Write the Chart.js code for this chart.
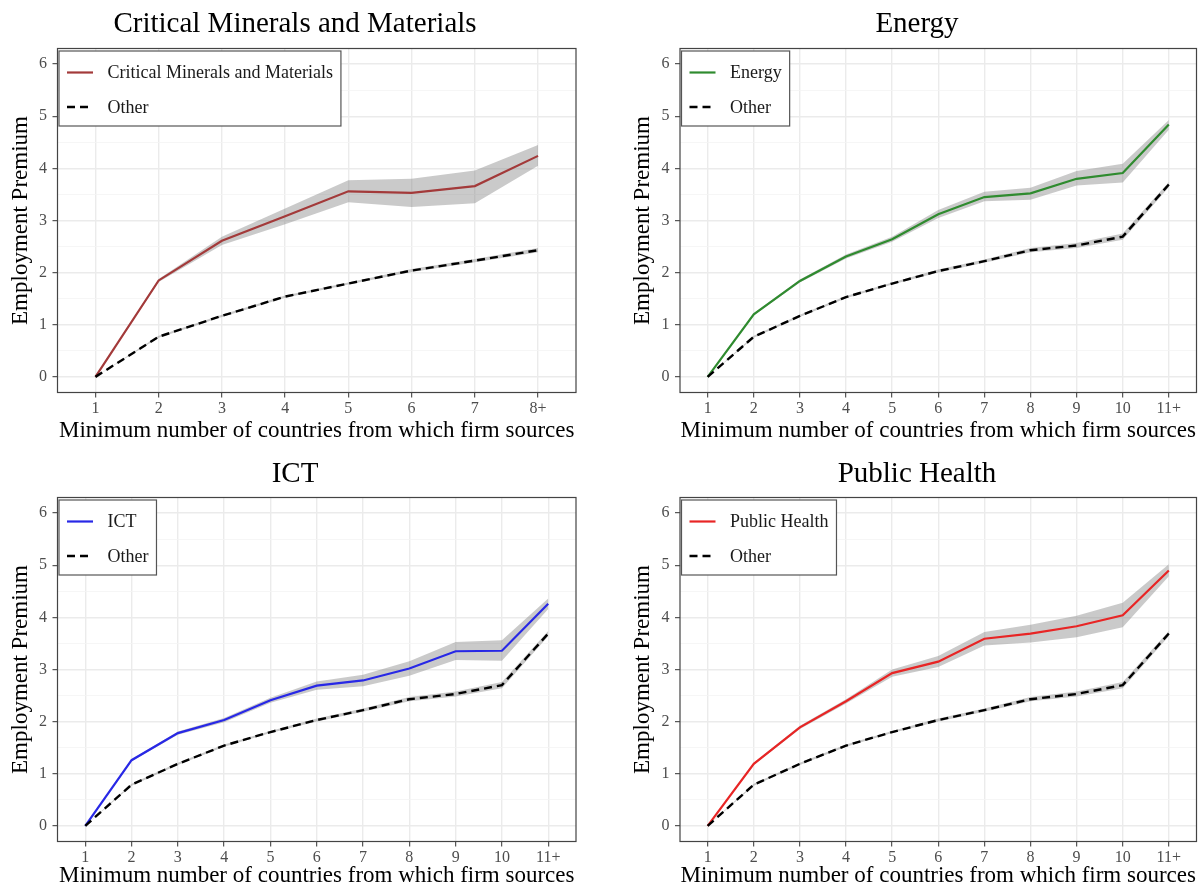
<!DOCTYPE html>
<html>
<head>
<meta charset="utf-8">
<title>Employment Premium by sector</title>
<script src="https://cdn.jsdelivr.net/npm/chart.js@4.4.0/dist/chart.umd.min.js"></script>
<style>
  html, body { margin: 0; padding: 0; background: #ffffff; }
  #wrap { position: relative; width: 1200px; height: 890px; overflow: hidden; }
  .panel { position: absolute; width: 600px; height: 445px; }
  .panel canvas { display: block; }
</style>
</head>
<body>
<div id="wrap">
  <div class="panel" style="left:0;top:0"><canvas id="c1" width="600" height="445"></canvas></div>
  <div class="panel" style="left:600px;top:0"><canvas id="c2" width="600" height="445"></canvas></div>
  <div class="panel" style="left:0;top:445px"><canvas id="c3" width="600" height="445"></canvas></div>
  <div class="panel" style="left:600px;top:445px"><canvas id="c4" width="600" height="445"></canvas></div>
</div>
<script>
// ---- categories and tick labels ----
const catsCMM = ['1', '2', '3', '4', '5', '6', '7', '8+'];
const cats11 = ['1', '2', '3', '4', '5', '6', '7', '8', '9', '10', '11+'];
const yTickValues = [0, 1, 2, 3, 4, 5, 6];

// ---- Critical Minerals and Materials ----
const cmmValue = [0, 1.85, 2.61, 3.08, 3.56, 3.53, 3.66, 4.24];
const cmmLow   = [0, 1.82, 2.53, 2.93, 3.35, 3.26, 3.33, 4.05];
const cmmHigh  = [0, 1.88, 2.69, 3.23, 3.77, 3.80, 3.96, 4.45];
const cmmOther     = [0, 0.77, 1.17, 1.54, 1.79, 2.04, 2.23, 2.43];
const cmmOtherLow  = [0, 0.75, 1.15, 1.52, 1.77, 2.01, 2.20, 2.39];
const cmmOtherHigh = [0, 0.79, 1.19, 1.56, 1.81, 2.07, 2.26, 2.47];

// ---- Energy ----
const energyValue = [0, 1.20, 1.84, 2.31, 2.64, 3.12, 3.45, 3.52, 3.80, 3.91, 4.84];
const energyLow   = [0, 1.18, 1.81, 2.27, 2.59, 3.05, 3.37, 3.40, 3.67, 3.73, 4.74];
const energyHigh  = [0, 1.22, 1.87, 2.35, 2.69, 3.20, 3.55, 3.63, 3.95, 4.09, 4.93];
const energyOther     = [0, 0.77, 1.17, 1.53, 1.79, 2.03, 2.22, 2.43, 2.52, 2.69, 3.69];
const energyOtherLow  = [0, 0.75, 1.15, 1.51, 1.77, 2.00, 2.19, 2.39, 2.47, 2.63, 3.64];
const energyOtherHigh = [0, 0.79, 1.19, 1.55, 1.81, 2.06, 2.25, 2.47, 2.57, 2.75, 3.74];

// ---- ICT ----
const ictValue = [0, 1.26, 1.78, 2.03, 2.41, 2.69, 2.79, 3.02, 3.35, 3.36, 4.26];
const ictLow   = [0, 1.24, 1.75, 1.99, 2.36, 2.61, 2.68, 2.88, 3.18, 3.17, 4.16];
const ictHigh  = [0, 1.28, 1.81, 2.07, 2.46, 2.77, 2.90, 3.16, 3.53, 3.56, 4.36];
const ictOther     = [0, 0.79, 1.19, 1.54, 1.80, 2.03, 2.22, 2.43, 2.53, 2.70, 3.69];
const ictOtherLow  = [0, 0.77, 1.17, 1.52, 1.78, 2.00, 2.19, 2.39, 2.48, 2.64, 3.64];
const ictOtherHigh = [0, 0.81, 1.21, 1.56, 1.82, 2.06, 2.25, 2.47, 2.58, 2.76, 3.74];

// ---- Public Health ----
const phValue = [0, 1.19, 1.89, 2.39, 2.93, 3.15, 3.59, 3.69, 3.83, 4.04, 4.90];
const phLow   = [0, 1.17, 1.86, 2.35, 2.86, 3.05, 3.46, 3.52, 3.62, 3.81, 4.79];
const phHigh  = [0, 1.21, 1.92, 2.43, 3.00, 3.26, 3.72, 3.86, 4.03, 4.28, 5.02];
const phOther     = [0, 0.79, 1.19, 1.54, 1.80, 2.03, 2.22, 2.43, 2.53, 2.70, 3.69];
const phOtherLow  = [0, 0.77, 1.17, 1.52, 1.78, 2.00, 2.19, 2.39, 2.48, 2.64, 3.64];
const phOtherHigh = [0, 0.81, 1.21, 1.56, 1.82, 2.06, 2.25, 2.47, 2.58, 2.76, 3.74];

const X_TITLE = 'Minimum number of countries from which firm sources';
const Y_TITLE = 'Employment Premium';
const OTHER_LABEL = 'Other';

// ---- styling ----
const SERIF = "'Liberation Serif', 'Times New Roman', serif";
const BAND = 'rgba(128,128,128,0.42)';
const NONE = 'rgba(0,0,0,0)';
Chart.defaults.font.family = SERIF;

const panels = [
  { canvas: 'c1', title: 'Critical Minerals and Materials', color: '#A33A3A', cats: catsCMM,
    v: cmmValue, lo: cmmLow, hi: cmmHigh, ov: cmmOther, olo: cmmOtherLow, ohi: cmmOtherHigh,
    area: { l: 57.5, r: 576, t: 48.5, b: 392.5 }, titleX: 295, titleY: 32, yTitlePad: 7 },
  { canvas: 'c2', title: 'Energy', color: '#2F8B2F', cats: cats11,
    v: energyValue, lo: energyLow, hi: energyHigh, ov: energyOther, olo: energyOtherLow, ohi: energyOtherHigh,
    area: { l: 80, r: 596.5, t: 48.5, b: 392.5 }, titleX: 317, titleY: 32, yTitlePad: 29 },
  { canvas: 'c3', title: 'ICT', color: '#2828E6', cats: cats11,
    v: ictValue, lo: ictLow, hi: ictHigh, ov: ictOther, olo: ictOtherLow, ohi: ictOtherHigh,
    area: { l: 57.5, r: 576, t: 52.5, b: 396.5 }, titleX: 295, titleY: 37, yTitlePad: 7 },
  { canvas: 'c4', title: 'Public Health', color: '#E82525', cats: cats11,
    v: phValue, lo: phLow, hi: phHigh, ov: phOther, olo: phOtherLow, ohi: phOtherHigh,
    area: { l: 80, r: 596.5, t: 52.5, b: 396.5 }, titleX: 317, titleY: 37, yTitlePad: 29 }
];

// panel title, full panel border and the inset legend
const decorations = {
  id: 'decorations',
  afterDraw(chart, args, opts) {
    const { ctx, chartArea: a } = chart;
    ctx.save();
    // title
    ctx.fillStyle = '#000';
    ctx.font = '29px ' + SERIF;
    ctx.textAlign = 'center';
    ctx.textBaseline = 'alphabetic';
    ctx.fillText(opts.title, opts.titleX, opts.titleY);
    // panel border
    ctx.strokeStyle = '#444';
    ctx.lineWidth = 1.2;
    ctx.strokeRect(a.left, a.top, a.right - a.left, a.bottom - a.top);
    // legend
    const entries = chart.data.datasets.filter(d => d.inLegend);
    ctx.font = '18px ' + SERIF;
    const textX = a.left + 50;
    const maxW = Math.max(...entries.map(d => ctx.measureText(d.label).width));
    const bx = a.left + 1.5, by = a.top + 2.5;
    const bw = textX + maxW + 8 - bx, bh = 75;
    ctx.fillStyle = '#fff';
    ctx.fillRect(bx, by, bw, bh);
    ctx.strokeStyle = '#555';
    ctx.lineWidth = 1.2;
    ctx.strokeRect(bx, by, bw, bh);
    entries.forEach((d, i) => {
      const y = by + 21.5 + i * 34.5;
      ctx.beginPath();
      ctx.setLineDash(d.borderDash || []);
      ctx.strokeStyle = d.borderColor;
      ctx.lineWidth = d.borderWidth;
      ctx.moveTo(a.left + 9.5, y);
      ctx.lineTo(a.left + 35.5, y);
      ctx.stroke();
      ctx.setLineDash([]);
      ctx.fillStyle = '#1A1A1A';
      ctx.textAlign = 'left';
      ctx.textBaseline = 'middle';
      ctx.fillText(d.label, textX, y + 1);
    });
    ctx.restore();
  }
};

function points(arr) {
  return arr.map((v, i) => ({ x: i + 1, y: v }));
}

function bandPair(hi, lo) {
  const common = { borderColor: NONE, borderWidth: 0, pointRadius: 0, order: 10, inLegend: false };
  return [
    Object.assign({ label: 'upper', data: points(hi), fill: '+1', backgroundColor: BAND }, common),
    Object.assign({ label: 'lower', data: points(lo), fill: false, backgroundColor: NONE }, common)
  ];
}

function build(p) {
  const minorAndMajor = [];
  yTickValues.forEach((v, i) => {
    minorAndMajor.push(v);
    if (i < yTickValues.length - 1) minorAndMajor.push((v + yTickValues[i + 1]) / 2);
  });
  const isMajor = v => yTickValues.includes(v);

  new Chart(document.getElementById(p.canvas), {
    type: 'line',
    data: {
      datasets: [
        ...bandPair(p.hi, p.lo),
        ...bandPair(p.ohi, p.olo),
        { label: p.title, data: points(p.v), borderColor: p.color, borderWidth: 2.2, pointRadius: 0,
          fill: false, tension: 0, order: 1, inLegend: true },
        { label: OTHER_LABEL, data: points(p.ov), borderColor: '#000', borderWidth: 2.4, borderDash: [8, 5],
          pointRadius: 0, fill: false, tension: 0, order: 0, inLegend: true }
      ]
    },
    options: {
      responsive: false,
      animation: false,
      devicePixelRatio: 1,
      layout: { padding: { left: 0, top: p.area.t, right: 600 - p.area.r, bottom: 0 } },
      plugins: {
        legend: { display: false },
        tooltip: { enabled: false },
        title: { display: false },
        decorations: { title: p.title, titleX: p.titleX, titleY: p.titleY }
      },
      scales: {
        x: {
          type: 'linear',
          min: 0.4,
          max: p.cats.length + 0.6,
          afterBuildTicks: s => { s.ticks = p.cats.map((c, i) => ({ value: i + 1 })); },
          afterFit: s => { s.height = 445 - p.area.b; },
          border: { display: false },
          grid: { color: '#EBEBEB', lineWidth: 1.4, tickColor: '#333', tickWidth: 1, tickLength: 5 },
          ticks: {
            callback: v => p.cats[Math.round(v) - 1],
            color: '#4D4D4D', font: { size: 16 }, padding: 2,
            autoSkip: false, maxRotation: 0, minRotation: 0
          },
          title: { display: true, text: X_TITLE, color: '#000', font: { size: 23 }, padding: { top: 0, bottom: 0 } }
        },
        y: {
          type: 'linear',
          min: -0.3,
          max: 6.3,
          afterBuildTicks: s => { s.ticks = minorAndMajor.map(v => ({ value: v })); },
          afterFit: s => { s.width = p.area.l; },
          border: { display: false },
          grid: {
            color: c => isMajor(c.tick.value) ? '#EBEBEB' : '#F4F4F4',
            lineWidth: c => isMajor(c.tick.value) ? 1.4 : 0.8,
            tickColor: c => isMajor(c.tick.value) ? '#333' : NONE,
            tickWidth: 1,
            tickLength: 5
          },
          ticks: {
            callback: v => isMajor(v) ? String(v) : '',
            color: '#4D4D4D', font: { size: 16 }, padding: 5.5, autoSkip: false
          },
          title: { display: true, text: Y_TITLE, color: '#000', font: { size: 23 }, padding: { top: p.yTitlePad, bottom: 0 } }
        }
      }
    },
    plugins: [decorations]
  });
}

panels.forEach(build);
</script>
</body>
</html>
